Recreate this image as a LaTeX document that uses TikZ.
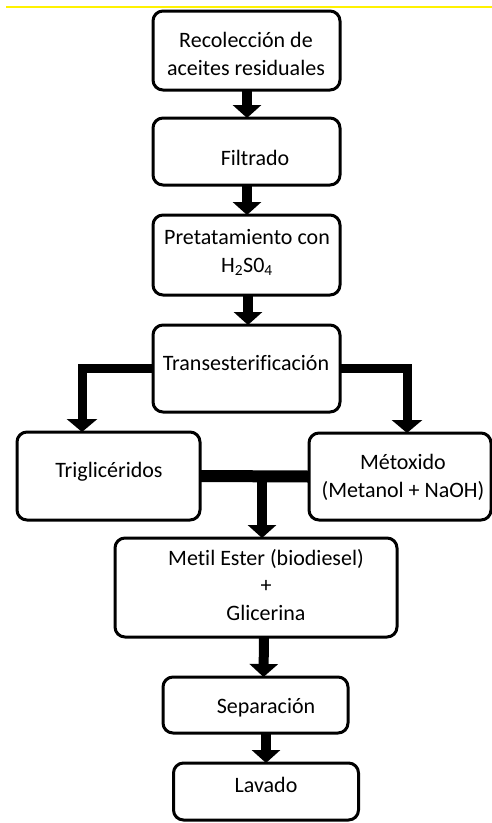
\documentclass[tikz,border=0pt]{standalone}
\usepackage{fontspec}
\setmainfont{Carlito}[Ligatures=NoCommon]
\usetikzlibrary{arrows.meta}
\begin{document}
\begin{tikzpicture}[x=1pt,y=-1pt,
  box/.style={draw=black,line width=3pt,rounded corners=10pt,fill=white,inner sep=0pt,outer sep=0pt},
  lbl/.style={anchor=base,align=center,inner sep=0pt,font=\fontsize{22}{27.5}\selectfont},
  arr/.style={line width=10pt,-{Triangle[width=28pt,length=13pt]}},
  bar/.style={line width=12pt}]
\useasboundingbox (0,0) rectangle (492,823);
\draw[yellow,line width=1.3pt] (6,7) -- (492,7);
% boxes
\node[box,minimum width=187pt,minimum height=79pt] (b1) at (246.5,50.5) {};
\node[box,minimum width=187pt,minimum height=67pt] (b2) at (246.5,151.5) {};
\node[box,minimum width=187pt,minimum height=80pt] (b3) at (246.5,255) {};
\node[box,minimum width=187pt,minimum height=87pt] (b4) at (246.5,368.5) {};
\node[box,minimum width=183pt,minimum height=88pt] (b5) at (108.5,476) {};
\node[box,minimum width=182pt,minimum height=87pt] (b6) at (400,476.5) {};
\node[box,minimum width=282pt,minimum height=99pt] (b7) at (256,587.5) {};
\node[box,minimum width=185pt,minimum height=56pt] (b8) at (255.5,705) {};
\node[box,minimum width=185pt,minimum height=57pt] (b9) at (266,791.5) {};
% connectors
\draw[arr] ([xshift=0.5pt]b1.south) -- ([xshift=0.5pt]b2.north);
\draw[arr] ([xshift=0.5pt]b2.south) -- ([xshift=0.5pt]b3.north);
\draw[arr] ([xshift=1.5pt]b3.south) -- ([xshift=1.5pt]b4.north);
\draw[line width=9pt,-{Triangle[width=30pt,length=13pt]}] (b4.west) -| ([xshift=-26.5pt]b5.north);
\draw[line width=9pt,-{Triangle[width=30pt,length=13pt]}] (b4.east) -| ([xshift=7pt]b6.north);
\draw[bar] (b5.east) -- (b6.west);
\coordinate (m) at ([xshift=6pt]b7.north |- b5.east);
\draw[arr] ([yshift=-6pt]m) -- ([xshift=6pt]b7.north);
\draw[arr] ([xshift=8pt]b7.south) -- ([xshift=-2.5pt]b8.north -| b9.north);
\draw[arr] ([xshift=10.5pt]b8.south) -- (b9.north);
% texts (base = last line)
\node[lbl] (t1) at (246,75) {Recolección de\\aceites residuales};
\node[lbl] (t2) at (255,165) {Filtrado};
\node[lbl] (t3) at (247,272) {Pretatamiento con\\H\textsubscript{2}S0\textsubscript{4}};
\node[lbl] (t4) at (246,370) {Transesterificación};
\node[lbl] (t5) at (109,477) {Triglicéridos};
\node[lbl] (t6) at (403,497) {Métoxido\\(Metanol + NaOH)};
\node[lbl] (t7) at (266,620) {Metil Ester (biodiesel)\\+\\Glicerina};
\node[lbl] (t8) at (266,713) {Separación};
\node[lbl] (t9) at (266,792) {Lavado};
\end{tikzpicture}
\end{document}
